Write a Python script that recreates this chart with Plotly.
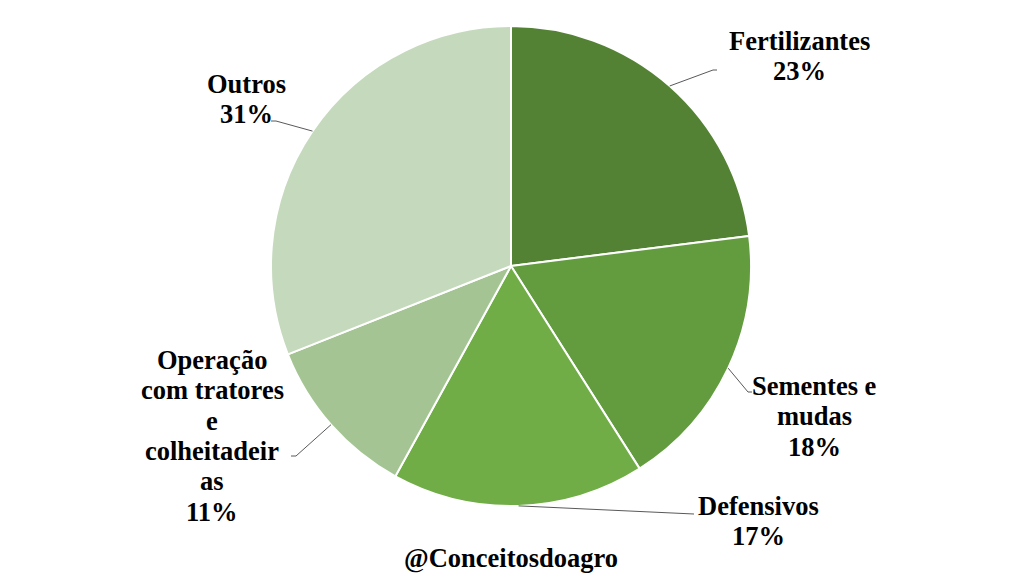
import math
import plotly.graph_objects as go

categories = ["Fertilizantes", "Sementes e mudas", "Defensivos",
              "Operação com tratores e colheitadeiras", "Outros"]
values = [23, 18, 17, 11, 31]
colors = ["#548235", "#629C3F", "#70AD47", "#A4C593", "#C5D9BC"]

# label text lines (as wrapped in the original)
label_lines = [
    ["Fertilizantes"],
    ["Sementes e", "mudas"],
    ["Defensivos"],
    ["Operação", "com tratores", "e", "colheitadeir", "as"],
    ["Outros"],
]
watermark = "@Conceitosdoagro"

W, H = 1024, 576
CX, CY, R = 511, 266, 240          # pie centre / radius in pixels
# label block placement (centre x, first line centre y) in pixels
label_pos = [(799, 41), (814, 386), (758, 506), (212, 360), (246, 84)]
# elbow of leader line (pixel), and short horizontal tail direction
elbows = [(713, 70, 4), (748, 392, 4), (694, 514, 0), (296, 456, -5), (276, 121, -5)]
LINE_GAP = 30.3
FONT = "Liberation Serif, Times New Roman, serif"
FS = 26.5


def px(x):
    return x / W


def py(y):
    return 1 - y / H


fig = go.Figure(go.Pie(
    labels=categories, values=values, sort=False, direction="clockwise",
    rotation=0, marker=dict(colors=colors, line=dict(color="white", width=2)),
    textinfo="none", hoverinfo="label+percent", showlegend=False,
    domain=dict(x=[px(CX - R), px(CX + R)], y=[py(CY + R), py(CY - R)]),
))

annotations = []
shapes = []
total = sum(values)
cum = 0
for i, v in enumerate(values):
    mid = (cum + v / 2) / total * 2 * math.pi
    cum += v
    ex = CX + R * math.sin(mid)
    ey = CY - R * math.cos(mid)
    bx, by, tail = elbows[i]
    shapes.append(dict(type="line", xref="paper", yref="paper",
                       x0=px(ex), y0=py(ey), x1=px(bx), y1=py(by),
                       line=dict(color="#595959", width=1)))
    if tail:
        shapes.append(dict(type="line", xref="paper", yref="paper",
                           x0=px(bx), y0=py(by), x1=px(bx + tail), y1=py(by),
                           line=dict(color="#595959", width=1)))
    lines = label_lines[i] + [f"{round(v / total * 100)}%"]
    lx, ly = label_pos[i]
    for k, t in enumerate(lines):
        annotations.append(dict(
            text=f"<b>{t}</b>", x=px(lx), y=py(ly + k * LINE_GAP),
            xref="paper", yref="paper", showarrow=False,
            xanchor="center", yanchor="middle",
            font=dict(family=FONT, size=FS, color="#000000")))

annotations.append(dict(
    text=f"<b>{watermark}</b>", x=px(511), y=py(558), xref="paper", yref="paper",
    showarrow=False, xanchor="center", yanchor="middle",
    font=dict(family=FONT, size=FS, color="#000000")))

fig.update_layout(
    width=W, height=H, margin=dict(l=0, r=0, t=0, b=0),
    paper_bgcolor="white", plot_bgcolor="white",
    annotations=annotations, shapes=shapes,
)

fig.write_html("out.html")
